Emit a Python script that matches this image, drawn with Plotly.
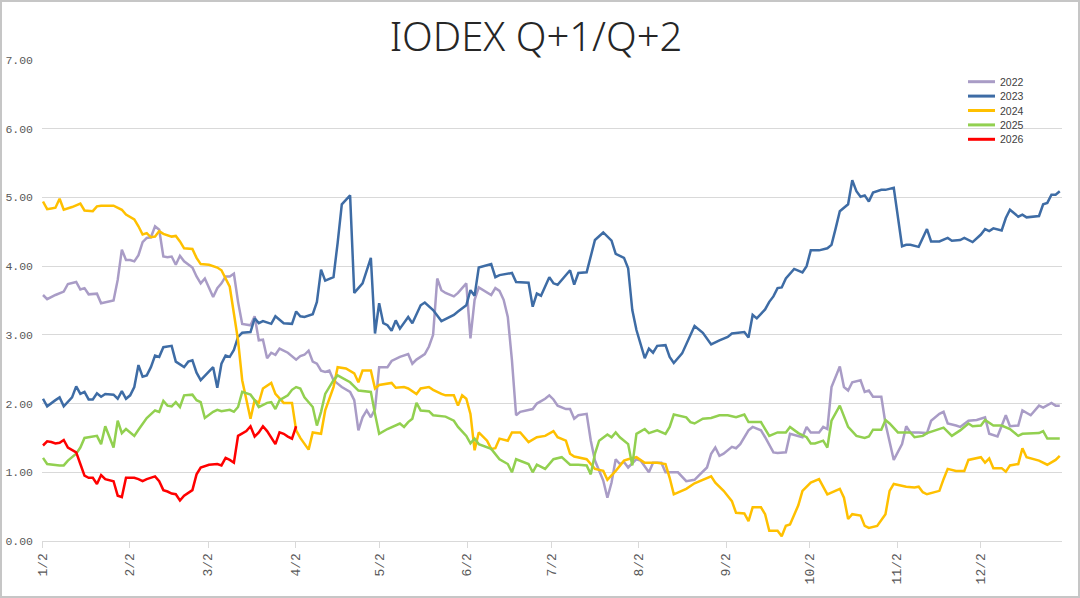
import plotly.graph_objects as go

# ---------------- data (x = trading-day index from 1/2, y = spread) ----------------
days_2022 = [0,1,3,4,5,6,7,8,9,10,11,12,13,14,17,18,19,20,21,22,23,24,25,26,27,28,29,30,31,32,33,34,36,37,38,39,41,42,43,44,45,46,47,48,50,51,52,53,54,55,56,57,59,61,62,63,64,65,66,67,68,69,70,71,72,74,75,76,77,78,79,80,81,82,83,84,86,88,89,90,92,93,94,95,96,97,98,99,100,101,102,103,104,105,106,108,109,110,111,112,113,114,115,117,118,119,121,122,123,124,126,127,128,129,131,132,133,135,136,137,138,139,140,141,143,144,146,147,149,150,153,155,157,158,160,161,162,163,164,166,167,168,170,171,173,174,176,177,179,180,182,183,184,185,187,188,189,190,192,193,194,195,197,198,199,200,202,203,205,206,207,208,209,211,213,214,216,217,218,220,221,223,225,227,228,230,232,233,234,235,236,238,240,241,243,244,245]
vals_2022 = [3.58,3.52,3.58,3.61,3.63,3.74,3.76,3.77,3.66,3.68,3.59,3.59,3.60,3.46,3.50,3.80,4.24,4.09,4.09,4.07,4.16,4.35,4.41,4.42,4.58,4.53,4.14,4.13,4.14,4.02,4.15,4.07,3.98,3.85,3.75,3.82,3.55,3.68,3.75,3.85,3.85,3.89,3.48,3.16,3.14,3.27,2.92,2.93,2.66,2.74,2.71,2.80,2.74,2.64,2.69,2.71,2.77,2.61,2.58,2.48,2.46,2.48,2.34,2.29,2.24,2.17,2.05,1.61,1.80,1.90,1.80,1.92,2.53,2.53,2.53,2.62,2.68,2.72,2.58,2.64,2.72,2.83,3.00,3.82,3.65,3.61,3.58,3.56,3.61,3.68,3.75,2.95,3.51,3.69,3.65,3.58,3.68,3.64,3.51,3.26,2.63,1.83,1.88,1.91,1.92,2.00,2.07,2.12,2.06,1.97,1.92,1.92,1.78,1.83,1.85,1.46,1.17,0.88,0.63,0.85,1.19,1.12,1.15,1.07,1.19,1.17,1.00,1.14,1.14,1.00,1.00,0.87,0.89,0.95,1.07,1.27,1.36,1.24,1.27,1.37,1.35,1.41,1.61,1.66,1.61,1.51,1.29,1.28,1.29,1.56,1.53,1.51,1.66,1.58,1.58,1.66,1.63,2.24,2.54,2.24,2.19,2.31,2.34,2.17,2.19,2.10,2.10,1.71,1.18,1.29,1.41,1.67,1.58,1.58,1.57,1.75,1.85,1.88,1.71,1.68,1.66,1.75,1.76,1.80,1.56,1.52,1.83,1.67,1.68,1.68,1.90,1.83,1.97,1.94,2.01,1.97,1.97]

days_2023 = [0,1,3,4,5,7,8,9,10,11,12,13,14,15,17,18,19,20,21,22,23,24,25,26,27,28,29,31,32,34,35,36,37,38,41,42,43,44,45,46,47,48,50,51,52,53,55,56,58,60,61,62,63,65,66,67,68,70,71,72,74,75,77,79,80,81,82,83,84,85,86,88,89,91,92,94,96,97,99,100,102,103,104,105,108,109,110,113,114,117,118,119,120,122,123,124,127,128,129,131,132,133,135,137,138,140,141,142,143,145,146,147,148,150,151,152,154,157,159,161,163,165,166,167,169,170,171,172,174,175,176,177,178,179,181,183,184,185,187,189,190,191,192,194,195,196,197,198,199,200,202,203,205,207,208,209,211,213,214,216,217,218,219,221,222,224,226,227,228,229,231,232,233,235,236,237,240,241,242,243,244,245]
vals_2023 = [2.07,1.96,2.05,2.09,1.96,2.09,2.25,2.14,2.17,2.06,2.06,2.15,2.10,2.14,2.13,2.07,2.18,2.07,2.12,2.24,2.56,2.39,2.41,2.53,2.70,2.68,2.82,2.84,2.61,2.53,2.61,2.63,2.45,2.34,2.53,2.23,2.58,2.70,2.68,2.78,2.97,3.03,3.04,3.24,3.17,3.20,3.16,3.27,3.17,3.16,3.34,3.27,3.26,3.30,3.48,3.95,3.79,3.84,4.34,4.90,5.03,3.61,3.75,4.12,3.02,3.46,3.17,3.14,3.06,3.21,3.09,3.26,3.17,3.43,3.47,3.36,3.20,3.23,3.29,3.34,3.43,3.65,3.57,3.98,4.03,3.84,3.87,3.90,3.77,3.76,3.41,3.60,3.57,3.84,3.75,3.73,3.94,3.73,3.90,3.91,4.14,4.38,4.49,4.37,4.18,4.12,3.97,3.36,3.07,2.66,2.80,2.74,2.84,2.85,2.68,2.59,2.73,3.13,3.03,2.86,2.92,2.97,3.02,3.03,3.04,2.96,3.29,3.24,3.37,3.48,3.56,3.68,3.69,3.82,3.96,3.91,4.00,4.23,4.23,4.26,4.31,4.55,4.80,4.90,5.25,5.09,5.01,5.03,4.94,5.07,5.11,5.11,5.14,4.29,4.31,4.31,4.28,4.54,4.36,4.36,4.38,4.41,4.37,4.38,4.41,4.35,4.46,4.54,4.51,4.55,4.52,4.70,4.82,4.72,4.75,4.71,4.73,4.90,4.92,5.04,5.04,5.09]

days_2024 = [0,1,2,3,4,5,7,9,10,12,13,14,17,19,20,22,23,24,25,26,27,28,29,31,32,33,34,36,37,38,40,42,43,44,45,46,47,48,49,50,51,52,53,55,56,58,60,61,62,64,65,67,68,70,71,73,75,76,77,79,80,81,84,85,87,88,90,91,93,94,96,97,99,100,101,102,103,104,105,107,108,109,110,112,113,115,117,119,121,123,124,126,127,128,131,133,135,136,138,140,141,143,145,148,150,151,152,155,157,159,161,162,164,166,167,169,170,171,173,174,175,177,178,179,180,182,183,185,187,189,190,192,193,194,195,197,198,199,201,203,204,205,208,210,211,212,213,216,217,218,220,222,223,224,226,227,228,229,231,232,233,235,236,237,240,242,243,244,245]
vals_2024 = [4.94,4.83,4.84,4.85,4.98,4.82,4.86,4.91,4.81,4.80,4.87,4.88,4.88,4.82,4.75,4.68,4.58,4.46,4.48,4.42,4.43,4.51,4.47,4.43,4.44,4.36,4.26,4.25,4.12,4.03,4.02,3.98,3.94,3.82,3.70,3.31,2.92,2.34,2.05,1.78,2.05,2.01,2.22,2.30,2.14,2.01,2.01,1.61,1.50,1.33,1.58,1.56,1.90,2.24,2.53,2.51,2.44,2.31,2.48,2.48,2.22,2.27,2.30,2.23,2.24,2.22,2.14,2.22,2.24,2.20,2.14,2.12,2.12,1.97,2.12,2.07,1.85,1.32,1.58,1.46,1.34,1.35,1.49,1.46,1.58,1.58,1.44,1.51,1.53,1.60,1.51,1.46,1.27,1.23,1.19,1.05,1.02,0.89,1.02,1.17,1.19,1.22,1.14,1.14,1.12,0.92,0.68,0.76,0.84,0.89,0.94,0.85,0.73,0.58,0.41,0.40,0.29,0.49,0.49,0.39,0.15,0.15,0.07,0.22,0.24,0.52,0.73,0.85,0.90,0.68,0.71,0.76,0.63,0.32,0.39,0.37,0.22,0.19,0.22,0.39,0.73,0.83,0.79,0.78,0.79,0.71,0.68,0.73,0.90,1.05,1.02,1.02,1.18,1.19,1.22,1.14,1.20,1.06,1.06,1.01,1.10,1.12,1.35,1.22,1.17,1.11,1.14,1.18,1.24]

days_2025 = [0,1,4,5,6,8,9,10,13,14,15,16,17,18,19,20,22,23,25,27,28,29,30,31,32,33,34,36,37,38,39,41,42,43,45,46,47,48,50,51,52,54,55,56,57,59,60,61,62,63,65,66,67,68,70,71,73,74,76,78,79,80,81,83,84,85,86,87,88,89,90,91,93,94,97,99,100,102,103,104,105,108,110,112,113,114,117,118,119,121,123,125,126,127,129,131,132,133,134,136,137,138,139,141,142,143,145,146,148,150,151,152,155,156,157,159,161,163,165,167,169,170,173,175,177,179,180,182,184,185,186,188,189,190,192,193,194,196,198,199,200,202,203,204,206,209,210,212,213,215,217,219,221,223,224,226,227,229,231,233,235,236,240,241,242,245]
vals_2025 = [1.21,1.12,1.10,1.10,1.17,1.27,1.36,1.50,1.53,1.41,1.67,1.51,1.36,1.75,1.57,1.63,1.53,1.62,1.79,1.90,1.88,2.04,1.97,1.96,2.02,1.95,2.12,2.13,2.05,2.02,1.79,1.88,1.91,1.89,1.91,1.88,1.95,2.17,2.13,2.05,1.95,2.01,2.02,1.92,2.05,2.12,2.20,2.24,2.22,2.09,1.95,1.68,1.88,2.14,2.34,2.41,2.35,2.31,2.19,2.18,2.17,1.85,1.56,1.63,1.66,1.68,1.71,1.66,1.73,1.78,2.01,1.90,1.89,1.83,1.81,1.75,1.66,1.53,1.42,1.49,1.41,1.34,1.19,1.12,1.00,1.19,1.12,1.00,1.11,1.05,1.19,1.22,1.17,1.11,1.11,1.10,0.97,1.27,1.46,1.55,1.51,1.58,1.51,1.41,1.10,1.56,1.63,1.57,1.61,1.56,1.66,1.84,1.80,1.73,1.71,1.78,1.79,1.83,1.83,1.80,1.84,1.73,1.73,1.53,1.58,1.58,1.66,1.57,1.51,1.42,1.42,1.46,1.36,1.75,1.97,1.80,1.66,1.53,1.50,1.52,1.62,1.62,1.76,1.71,1.58,1.58,1.51,1.53,1.57,1.61,1.65,1.53,1.61,1.71,1.67,1.68,1.76,1.68,1.68,1.63,1.53,1.56,1.57,1.60,1.49,1.49]

days_2026 = [0,1,2,3,4,5,6,7,8,9,10,11,12,13,14,15,17,18,19,20,22,23,24,25,27,28,29,30,31,32,33,34,36,37,38,40,42,43,44,45,46,47,49,50,51,52,53,54,56,57,58,59,60,61]
vals_2026 = [1.39,1.45,1.44,1.42,1.43,1.47,1.36,1.33,1.29,1.12,0.95,0.92,0.92,0.83,0.96,0.90,0.87,0.66,0.64,0.92,0.92,0.90,0.87,0.90,0.94,0.87,0.74,0.72,0.69,0.68,0.59,0.66,0.74,0.97,1.07,1.11,1.12,1.10,1.21,1.18,1.14,1.53,1.60,1.67,1.52,1.58,1.67,1.60,1.41,1.58,1.56,1.52,1.49,1.67]

series_names = ["2022", "2023", "2024", "2025", "2026"]
series_days = [days_2022, days_2023, days_2024, days_2025, days_2026]
series_vals = [vals_2022, vals_2023, vals_2024, vals_2025, vals_2026]
series_colors = ["#a99cc6", "#3e6ca5", "#ffc000", "#92d050", "#ff0000"]

# month tick positions (in trading-day index) and labels
tick_pos = [-0.14, 20.9, 39.8, 60.8, 81.1, 102.2, 122.6, 143.6, 164.6, 184.7, 205.8, 226.0]
tick_text = ["1/2", "2/2", "3/2", "4/2", "5/2", "6/2", "7/2", "8/2", "9/2", "10/2", "11/2", "12/2"]
y_ticks = [0, 1, 2, 3, 4, 5, 6, 7]

# ---------------- layout constants ----------------
W, H = 1080, 598
ML, MR, MT, MB = 42, 18, 60, 57
PW, PH = W - ML - MR, H - MT - MB

fig = go.Figure()
for name, xs, ys, col in zip(series_names, series_days, series_vals, series_colors):
    fig.add_trace(go.Scatter(x=xs, y=ys, name=name, mode="lines",
                             line=dict(color=col, width=2.5), showlegend=False))

# manual compact legend (top right)
shapes = []
annotations = []
lx0 = (968 - ML) / PW
lx1 = (995 - ML) / PW
tx = (998 - ML) / PW
row0 = 81.7
step = 14.4
for i, (name, col) in enumerate(zip(series_names, series_colors)):
    yy = (MT + PH - (row0 + i * step)) / PH
    shapes.append(dict(type="line", xref="paper", yref="paper", x0=lx0, x1=lx1, y0=yy, y1=yy,
                       line=dict(color=col, width=3)))
    annotations.append(dict(xref="paper", yref="paper", x=tx, y=yy, text=name, showarrow=False,
                            xanchor="left", yanchor="middle",
                            font=dict(family="Liberation Sans, Arial", size=10.5, color="#404040")))

# outer frame
shapes.append(dict(type="rect", xref="paper", yref="paper",
                   x0=(1 - ML) / PW, x1=(W - 1 - ML) / PW,
                   y0=(MT + PH - (H - 1)) / PH, y1=(MT + PH - 1) / PH,
                   line=dict(color="#c6c6c6", width=2), fillcolor="rgba(0,0,0,0)", layer="above"))

fig.update_layout(
    width=W, height=H, autosize=False,
    margin=dict(l=ML, r=MR, t=MT, b=MB, pad=0, autoexpand=False),
    paper_bgcolor="white", plot_bgcolor="white",
    title=dict(text="IODEX Q+1/Q+2", x=536 / W, xanchor="center", y=1 - 37 / H, yanchor="middle",
               xref="container", yref="container", automargin=False,
               font=dict(family="Noto Sans, Open Sans", size=40, color="#262626", weight=300)),
    shapes=shapes, annotations=annotations,
    xaxis=dict(range=[-0.24, 245.54], tickmode="array", tickvals=tick_pos, ticktext=tick_text,
               tickangle=-90, showgrid=False, zeroline=False, automargin=False,
               showline=True, linecolor="#d9d9d9", linewidth=1,
               ticks="outside", ticklen=6, tickcolor="#d9d9d9", tickwidth=1,
               tickfont=dict(family="Liberation Mono, DejaVu Sans Mono", size=13, color="#595959")),
    yaxis=dict(range=[0, 7], tickmode="array", tickvals=y_ticks, automargin=False,
               tickformat=".2f", showgrid=True, gridcolor="#d9d9d9", gridwidth=1,
               zeroline=False, showline=False, ticks="", ticklabelstandoff=8,
               tickfont=dict(family="Liberation Mono, DejaVu Sans Mono", size=11.5, color="#595959")),
)

fig.write_html("out.html", config={"displayModeBar": False},
               post_script="document.body.style.margin='0';document.body.style.overflow='hidden';")
